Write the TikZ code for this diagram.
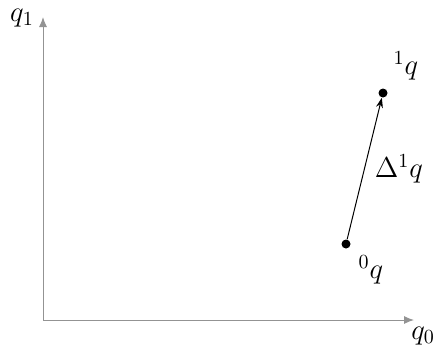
\documentclass[tikz,border=0pt]{standalone}
\usetikzlibrary{arrows.meta}
\begin{document}
\begin{tikzpicture}[x=0.5pt,y=-0.5pt,
  axis/.style={draw=gray!85,line width=0.5pt,-{Latex[length=5pt,width=4pt]}},
  lbl/.style={font=\fontsize{14.4}{17}\selectfont,inner sep=0pt},
  pt/.style={circle,fill=black,inner sep=0pt,minimum size=4.5pt}]
\useasboundingbox (0,0) rectangle (433,350);
\coordinate (o) at (43,320);
\coordinate (xe) at (414,320);
\coordinate (ye) at (43,17);
\draw[axis] (o) -- (xe);
\draw[axis] (o) -- (ye);
\node[lbl] (q0) at (423,336) {$q_0$};
\node[lbl] (q1) at (22,18) {$q_1$};
\node[pt] (p0) at (346,244) {};
\node[pt] (p1) at (383,93) {};
\draw[line width=0.5pt,-{Stealth[length=5pt,width=3.5pt]}] (p0) -- (p1);
\node[lbl] (l0) at (371,270) {${}^0q$};
\node[lbl] (l1) at (406,66) {${}^1q$};
\node[lbl] (ld) at (399,169) {$\Delta^1q$};
\end{tikzpicture}
\end{document}
